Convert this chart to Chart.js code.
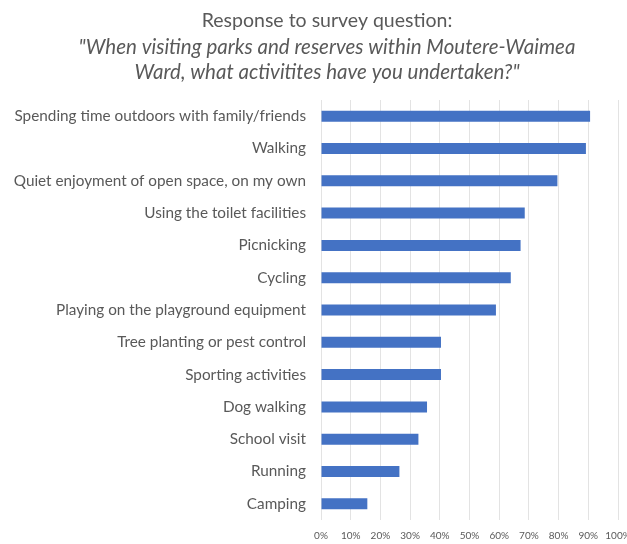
<!DOCTYPE html>
<html>
<head>
<meta charset="utf-8">
<script src="https://cdn.jsdelivr.net/npm/chart.js@4"></script>
<style>
  html, body { margin: 0; padding: 0; background: #fff; overflow: hidden; }
  #wrap { width: 627px; height: 544px; overflow: hidden; }
</style>
</head>
<body>
<div id="wrap"><canvas id="chart" width="640" height="544"></canvas></div>
<script>
// survey answers, top to bottom
var activities = [
  'Spending time outdoors with family/friends',
  'Walking',
  'Quiet enjoyment of open space, on my own',
  'Using the toilet facilities',
  'Picnicking',
  'Cycling',
  'Playing on the playground equipment',
  'Tree planting or pest control',
  'Sporting activities',
  'Dog walking',
  'School visit',
  'Running',
  'Camping'
];
// percent of respondents
var percents = [90.6, 89.2, 79.6, 68.6, 67.2, 63.9, 58.9, 40.4, 40.4, 35.7, 32.8, 26.4, 15.6];

var titleLines = [
  'Response to survey question:',
  '"When visiting parks and reserves within Moutere-Waimea',
  'Ward, what activitites have you undertaken?"'
];

var grey = '#595959';

// title drawn by hand: first line upright, the quote in italics
var titlePlugin = {
  id: 'surveyTitle',
  afterDraw: function(chart) {
    var ctx = chart.ctx;
    ctx.save();
    ctx.fillStyle = grey;
    ctx.textAlign = 'center';
    ctx.textBaseline = 'middle';
    ctx.font = '19.5px Lato';
    ctx.fillText(titleLines[0], 327, 21);
    ctx.font = 'italic 20.5px Lato';
    ctx.fillText(titleLines[1], 327, 47);
    ctx.fillText(titleLines[2], 327, 72);
    ctx.restore();
  }
};

var ctx = document.getElementById('chart');
var chart = new Chart(ctx, {
  type: 'bar',
  data: {
    labels: activities,
    datasets: [{
      data: percents,
      backgroundColor: '#4472C4',
      borderWidth: 0,
      barPercentage: 0.34,
      categoryPercentage: 1
    }]
  },
  options: {
    indexAxis: 'y',
    responsive: false,
    animation: false,
    layout: { padding: { top: 100, right: 22, bottom: 2, left: 0 } },
    plugins: {
      legend: { display: false },
      tooltip: { enabled: false }
    },
    scales: {
      x: {
        min: 0,
        max: 100,
        border: { display: false },
        grid: { color: '#e3e3e3', drawTicks: false },
        ticks: {
          stepSize: 10,
          padding: 10,
          maxRotation: 0,
          minRotation: 0,
          autoSkip: false,
          color: grey,
          font: { family: 'Lato', size: 10 },
          callback: function(v) { return v + '%'; }
        },
        afterFit: function(scale) {
          scale.height = 22;
          scale.paddingLeft = 0;
          scale.paddingRight = 0;
        }
      },
      y: {
        border: { display: false },
        grid: { display: false, drawTicks: false },
        ticks: {
          padding: 15,
          color: grey,
          font: { family: 'Lato', size: 15.3 }
        },
        afterFit: function(scale) {
          scale.width = 321;
          scale.paddingTop = 0;
          scale.paddingBottom = 0;
        }
      }
    }
  },
  plugins: [titlePlugin]
});
</script>
</body>
</html>
